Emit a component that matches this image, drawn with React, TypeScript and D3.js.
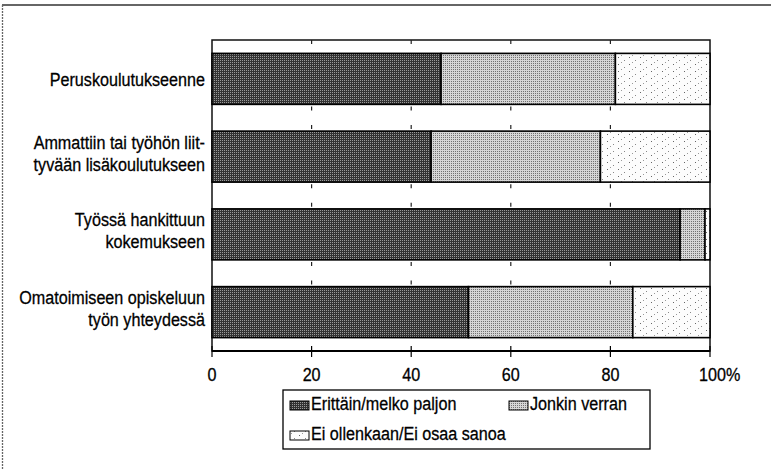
import React from "react";
import * as d3 from "d3";

const categories: string[][] = [
  ["Peruskoulutukseenne"],
  ["Ammattiin tai työhön liit-", "tyvään lisäkoulutukseen"],
  ["Työssä hankittuun", "kokemukseen"],
  ["Omatoimiseen opiskeluun", "työn yhteydessä"],
];
const seriesNames = ["Erittäin/melko paljon", "Jonkin verran", "Ei ollenkaan/Ei osaa sanoa"];
const erittain = [46, 44, 94, 51.5];
const jonkin = [35, 34, 5, 33];
const eiOllenkaan = [19, 22, 1, 15.5];
const xTicks = [0, 20, 40, 60, 80, 100];

const W = 771;
const H = 470;
const FONT = "'Liberation Sans', Arial, sans-serif";
const SX = 0.85;
const patternIds = ["patDark", "patMid", "patLight"];

function NText(props: { x: number; y: number; size: number; anchor?: string; children: React.ReactNode }) {
  return (
    <text
      transform={`translate(${props.x},${props.y}) scale(${SX},1)`}
      fontSize={props.size}
      textAnchor={props.anchor || "start"}
      fill="#000"
      stroke="#000"
      strokeWidth={0.3}
    >
      {props.children}
    </text>
  );
}

export default function App() {
  const x = d3.scaleLinear().domain([0, 100]).range([212, 710]);
  const keys = categories.map((c) => c.join(" "));
  const y = d3.scaleBand<string>().domain(keys).range([40, 351]).paddingInner(0.344).paddingOuter(0.172);
  const rows = keys.map((k, i) => ({ key: k, v0: erittain[i], v1: jonkin[i], v2: eiOllenkaan[i] }));
  const stack = d3.stack<any>().keys(["v0", "v1", "v2"]);
  const stacked = stack(rows);
  const bw = y.bandwidth();

  const gridTicks = xTicks.slice(1, -1);
  const gapSegs: { x: number; y1: number; y2: number }[] = [];
  gridTicks.forEach((t) => {
    gapSegs.push({ x: x(t), y1: 40, y2: 44 });
    keys.forEach((k, i) => {
      const b = (y(k) as number) + bw;
      if (i < keys.length - 1) {
        const nt = y(keys[i + 1]) as number;
        gapSegs.push({ x: x(t), y1: b + 2, y2: b + 6 });
        gapSegs.push({ x: x(t), y1: nt - 6, y2: nt - 2 });
      }
    });
  });

  const legendItems = [
    { name: seriesNames[0], pat: patternIds[0], sx: 290, sy: 401, tx: 311, ty: 410 },
    { name: seriesNames[1], pat: patternIds[1], sx: 509, sy: 401, tx: 530, ty: 410 },
    { name: seriesNames[2], pat: patternIds[2], sx: 290, sy: 431, tx: 311, ty: 440 },
  ];

  return (
    <svg width={W} height={H} style={{ position: "absolute", left: 0, top: 0, background: "#fff" }} fontFamily={FONT}>
      <defs>
        <pattern id="patDark" width="2" height="2" patternUnits="userSpaceOnUse">
          <rect width="2" height="2" fill="#333" />
          <rect width="1" height="1" fill="#9a9a9a" />
        </pattern>
        <pattern id="patMid" width="2" height="2" patternUnits="userSpaceOnUse">
          <rect width="2" height="2" fill="#d6d6d6" />
          <rect x="1" y="1" width="1" height="1" fill="#727272" />
        </pattern>
        <pattern id="patLight" width="11" height="7" patternUnits="userSpaceOnUse">
          <rect width="11" height="7" fill="#fcfcfc" />
          <rect x="2" y="1" width="1" height="1" fill="#666" />
          <rect x="8" y="4" width="1" height="1" fill="#888" />
          <rect x="5" y="6" width="1" height="1" fill="#999" />
        </pattern>
      </defs>
      <rect width={W} height={H} fill="#fff" />
      {/* outer frame */}
      <line x1={2} x2={W} y1={5} y2={5} stroke="#333" strokeWidth={1.5} />
      <line x1={2.5} x2={2.5} y1={5} y2={H} stroke="#666" strokeWidth={1.3} strokeDasharray="2,1" />

      {/* plot box */}
      <rect x={x(0)} y={40} width={x(100) - x(0)} height={311} fill="none" stroke="#111" strokeWidth={1.5} />

      {/* grid tick segments */}
      {gapSegs.map((s, i) => (
        <line key={"g" + i} x1={s.x} x2={s.x} y1={s.y1} y2={s.y2} stroke="#222" strokeWidth={1.2} />
      ))}

      {/* bars */}
      {stacked.map((layer, li) =>
        layer.map((d: any, i: number) => (
          <rect
            key={li + "-" + i}
            x={x(d[0])}
            y={y(keys[i]) as number}
            width={Math.max(0, x(d[1]) - x(d[0]))}
            height={bw}
            fill={`url(#${patternIds[li]})`}
            stroke="#000"
            strokeWidth={1.6}
          />
        ))
      )}

      {/* bottom axis */}
      <line x1={x(0)} x2={x(100)} y1={351} y2={351} stroke="#000" strokeWidth={2} />
      {xTicks.map((t) => (
        <g key={"t" + t}>
          <line x1={x(t)} x2={x(t)} y1={346} y2={357} stroke="#000" strokeWidth={1.2} />
          {t === 100 ? (
            <NText x={x(t) - 11} y={381} size={19}>
              {t + "%"}
            </NText>
          ) : (
            <NText x={x(t)} y={381} size={19} anchor="middle">
              {t}
            </NText>
          )}
        </g>
      ))}

      {/* category labels */}
      {categories.map((lines, i) => {
        const c = (y(keys[i]) as number) + bw / 2;
        const base = lines.length === 1 ? [c + 7] : [c - 8, c + 14];
        return lines.map((ln, j) => (
          <NText key={"c" + i + j} x={205} y={base[j]} size={19} anchor="end">
            {ln}
          </NText>
        ));
      })}

      {/* legend */}
      <rect x={283} y={390} width={367} height={59} fill="#fff" stroke="#000" strokeWidth={1.3} />
      {legendItems.map((it) => (
        <g key={it.name}>
          <rect x={it.sx} y={it.sy} width={19} height={9} fill={`url(#${it.pat})`} stroke="#000" strokeWidth={1} />
          <NText x={it.tx} y={it.ty} size={19}>
            {it.name}
          </NText>
        </g>
      ))}
    </svg>
  );
}
